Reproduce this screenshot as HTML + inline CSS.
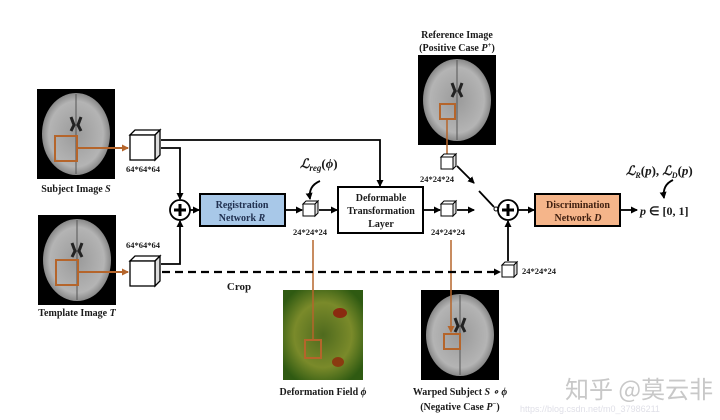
<!DOCTYPE html>
<html><head><meta charset="utf-8"><style>body{margin:0;background:#fff}svg{display:block}</style></head><body>
<svg width="720" height="420" viewBox="0 0 720 420" xmlns="http://www.w3.org/2000/svg" font-family="Liberation Serif, serif" font-weight="bold">
<defs>
<marker id="a" markerUnits="userSpaceOnUse" markerWidth="7" markerHeight="7" refX="6" refY="3.5" orient="auto"><path d="M0,0 L7,3.5 L0,7z" fill="#000"/></marker>
<marker id="o" markerUnits="userSpaceOnUse" markerWidth="7" markerHeight="7" refX="6" refY="3.5" orient="auto"><path d="M0,0 L7,3.5 L0,7z" fill="#b5652b"/></marker>
<radialGradient id="br" cx="50%" cy="50%" r="50%"><stop offset="0" stop-color="#9a9a9a"/><stop offset="0.8" stop-color="#b4b4b4"/><stop offset="1" stop-color="#888"/></radialGradient>
<radialGradient id="df" cx="50%" cy="50%" r="60%"><stop offset="0" stop-color="#4f6a1e"/><stop offset="0.6" stop-color="#7a8a2a"/><stop offset="1" stop-color="#2f5a12"/></radialGradient>
<g id="brain"><rect width="78" height="90" fill="#000"/><ellipse cx="39" cy="45" rx="34" ry="41" fill="url(#br)"/><path d="M34,28 l3,8 l-3,6 M44,28 l-3,8 l3,6" stroke="#222" stroke-width="3" fill="none"/><line x1="39" y1="5" x2="39" y2="85" stroke="#555" stroke-width="1"/></g>
<g id="cube"><path d="M0,5 L5,0 L30,0 L25,5z" fill="#fff" stroke="#000" stroke-width="1.3"/><path d="M25,5 L30,0 L30,25 L25,30z" fill="#ddd" stroke="#000" stroke-width="1.3"/><rect x="0" y="5" width="25" height="25" fill="#fff" stroke="#000" stroke-width="1.3"/></g>
<g id="sc"><path d="M0,3 L3,0 L15,0 L12,3z" fill="#fff" stroke="#000"/><path d="M12,3 L15,0 L15,12 L12,15z" fill="#ddd" stroke="#000"/><rect x="0" y="3" width="12" height="12" fill="#fff" stroke="#000"/></g>
</defs>
<use href="#brain" x="37" y="89"/>
<rect x="55" y="136" width="22" height="25" fill="none" stroke="#b5652b" stroke-width="2"/>
<use href="#brain" x="38" y="215"/>
<rect x="56" y="260" width="22" height="25" fill="none" stroke="#b5652b" stroke-width="2"/>
<use href="#brain" x="418" y="55"/>
<rect x="440" y="104" width="15" height="15" fill="none" stroke="#b5652b" stroke-width="2"/>
<rect x="283" y="290" width="80" height="90" fill="url(#df)"/>
<ellipse cx="340" cy="313" rx="7" ry="5" fill="#8a2a10"/><ellipse cx="338" cy="362" rx="6" ry="5" fill="#8a3a10"/>
<rect x="305" y="340" width="16" height="18" fill="none" stroke="#b5652b" stroke-width="2"/>
<use href="#brain" x="421" y="290"/>
<rect x="444" y="334" width="16" height="15" fill="none" stroke="#b5652b" stroke-width="2"/>
<line x1="77" y1="148" x2="128" y2="148" stroke="#b5652b" stroke-width="2" marker-end="url(#o)"/>
<line x1="78" y1="272" x2="128" y2="272" stroke="#b5652b" stroke-width="2" marker-end="url(#o)"/>
<line x1="447" y1="119" x2="447" y2="154" stroke="#b5652b" stroke-width="1.5"/>
<line x1="313" y1="240" x2="313" y2="340" stroke="#b5652b" stroke-width="1.5"/>
<line x1="451" y1="240" x2="451" y2="332" stroke="#b5652b" stroke-width="1.5" marker-end="url(#o)"/>
<use href="#cube" x="130" y="130"/>
<use href="#cube" x="130" y="256"/>
<use href="#sc" x="303" y="201"/>
<use href="#sc" x="441" y="201"/>
<use href="#sc" x="441" y="154"/>
<use href="#sc" x="502" y="262"/>
<g stroke="#000" stroke-width="1.8" fill="none">
<path d="M161,140 H380 V186" marker-end="url(#a)"/>
<path d="M161,148 H180 V199" marker-end="url(#a)"/>
<path d="M161,264 H180 V221" marker-end="url(#a)"/>
<line x1="190" y1="210" x2="199" y2="210" marker-end="url(#a)"/>
<line x1="286" y1="210" x2="302" y2="210" marker-end="url(#a)"/>
<line x1="319" y1="210" x2="337" y2="210" marker-end="url(#a)"/>
<line x1="424" y1="210" x2="440" y2="210" marker-end="url(#a)"/>
<line x1="457" y1="210" x2="474" y2="210" marker-end="url(#a)"/>
<line x1="457" y1="166" x2="474" y2="183" marker-end="url(#a)"/>
<line x1="479" y1="191" x2="494" y2="207"/>
<line x1="518" y1="210" x2="534" y2="210" marker-end="url(#a)"/>
<line x1="621" y1="210" x2="637" y2="210" marker-end="url(#a)"/>
<line x1="508" y1="261" x2="508" y2="221" marker-end="url(#a)"/>
<line x1="162" y1="272" x2="500" y2="272" stroke-dasharray="8,5" stroke-width="2.2" marker-end="url(#a)"/>
<path d="M320,181 Q308,186 310,199" marker-end="url(#a)"/>
<path d="M673,180 Q662,185 664,198" marker-end="url(#a)"/>
</g>
<circle cx="496" cy="209" r="2" fill="#fff" stroke="#000"/>
<g stroke="#000" stroke-width="1.8"><circle cx="180" cy="210" r="10" fill="#fff"/><circle cx="508" cy="210" r="10" fill="#fff"/></g>
<path d="M174,210 H186 M180,204 V216 M502,210 H514 M508,204 V216" stroke="#000" stroke-width="3"/>
<rect x="200" y="194" width="85" height="32" fill="#a8c8e8" stroke="#000" stroke-width="2"/>
<rect x="338" y="187" width="85" height="46" fill="#fff" stroke="#000" stroke-width="2"/>
<rect x="535" y="194" width="85" height="32" fill="#f5b58a" stroke="#000" stroke-width="2"/>
<g font-size="10" text-anchor="middle" fill="#1a1a1a">
<text x="242" y="208" fill="#203050">Registration</text><text x="242" y="221" fill="#203050">Network <tspan font-style="italic">R</tspan></text>
<text x="381" y="201">Deformable</text><text x="381" y="214">Transformation</text><text x="381" y="227">Layer</text>
<text x="578" y="208" fill="#402010">Discrimination</text><text x="578" y="221" fill="#402010">Network <tspan font-style="italic">D</tspan></text>
<text x="76" y="192">Subject Image <tspan font-style="italic">S</tspan></text>
<text x="77" y="316">Template Image <tspan font-style="italic">T</tspan></text>
<text x="457" y="38">Reference Image</text>
<text x="457" y="51">(Positive Case  <tspan font-style="italic">P</tspan><tspan font-size="7" dy="-4">+</tspan><tspan dy="4">)</tspan></text>
<text x="323" y="395">Deformation Field <tspan font-style="italic">ϕ</tspan></text>
<text x="460" y="395">Warped Subject <tspan font-style="italic">S ∘ ϕ</tspan></text>
<text x="460" y="410">(Negative Case  <tspan font-style="italic">P</tspan><tspan font-size="7" dy="-4">−</tspan><tspan dy="4">)</tspan></text>
<text x="239" y="290" font-size="11">Crop</text>
</g>
<g font-size="8.5" fill="#1a1a1a">
<text x="126" y="172">64*64*64</text><text x="126" y="248">64*64*64</text>
<text x="293" y="235">24*24*24</text><text x="431" y="235">24*24*24</text>
<text x="420" y="182">24*24*24</text><text x="522" y="274">24*24*24</text>
</g>
<g font-size="13" font-style="italic" fill="#1a1a1a">
<text x="300" y="168">ℒ<tspan font-size="9" dy="3">reg</tspan><tspan dy="-3" font-style="normal">(</tspan>ϕ<tspan font-style="normal">)</tspan></text>
<text x="626" y="175">ℒ<tspan font-size="8" dy="3">R</tspan><tspan dy="-3" font-style="normal">(</tspan>p<tspan font-style="normal">), </tspan>ℒ<tspan font-size="8" dy="3">D</tspan><tspan dy="-3" font-style="normal">(</tspan>p<tspan font-style="normal">)</tspan></text>
<text x="640" y="215" font-size="12">p <tspan font-style="normal">∈ [0, 1]</tspan></text>
</g>
<text x="565" y="398" font-family="Noto Sans CJK SC, sans-serif" font-weight="normal" font-size="24" fill="#c8c8c8">知乎 @莫云非</text>
<text x="520" y="412" font-family="Liberation Sans, sans-serif" font-weight="normal" font-size="9" fill="#e0e0e8">https://blog.csdn.net/m0_37986211</text>
</svg>
</body></html>
